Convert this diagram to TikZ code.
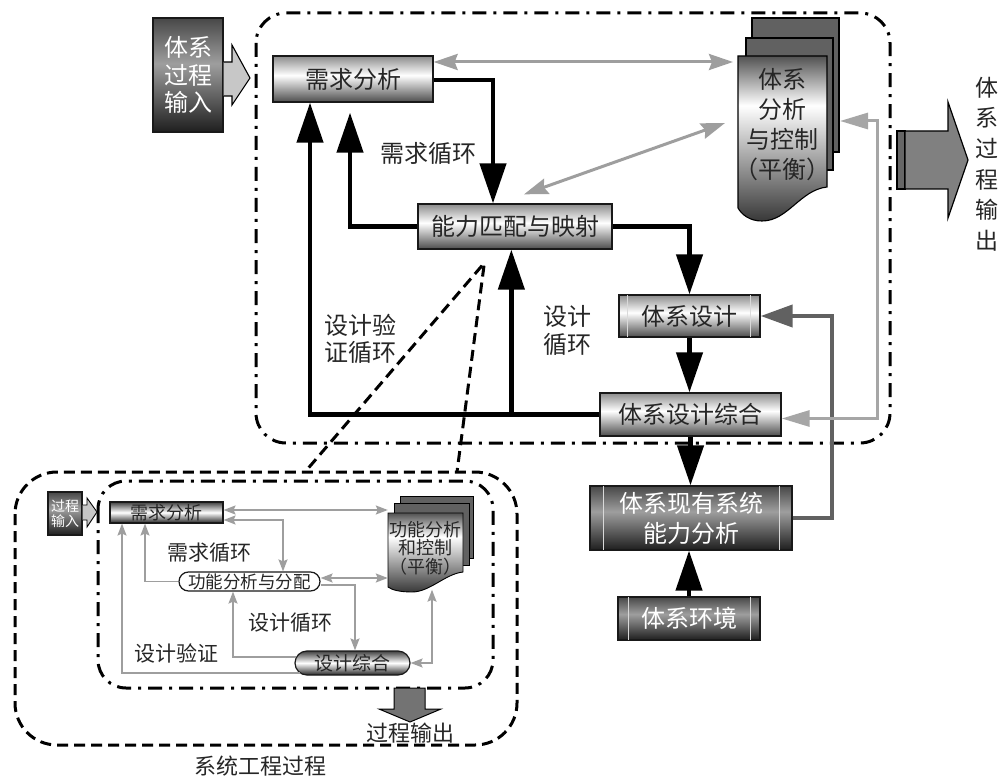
\documentclass[tikz,border=0pt]{standalone}
\usepackage{fontspec}
\setmainfont{Noto Sans CJK SC}
\usetikzlibrary{arrows.meta,shapes.misc,calc}
\newcommand\fz[2]{\fontsize{#1pt}{#2pt}\selectfont}
\pgfdeclareverticalshading{lightcyl}{100bp}{color(0bp)=(black!70); color(25bp)=(black!70); color(54bp)=(white); color(75bp)=(black!45); color(100bp)=(black!45)}
\pgfdeclareverticalshading{ilightcyl}{100bp}{color(0bp)=(black!85); color(25bp)=(black!85); color(50bp)=(white); color(75bp)=(black!75); color(100bp)=(black!75)}
\pgfdeclareverticalshading{darkcyl}{100bp}{color(0bp)=(black!88); color(25bp)=(black!88); color(55bp)=(black!38); color(75bp)=(black!72); color(100bp)=(black!72)}
\pgfdeclareverticalshading{docshade}{100bp}{color(0bp)=(black!78); color(25bp)=(black!78); color(60bp)=(white); color(75bp)=(black!68); color(100bp)=(black!68)}
\begin{document}
\begin{tikzpicture}[x=1pt,y=-1pt,
  lbox/.style={draw=black!90, line width=1.3pt, shade, shading=lightcyl, inner sep=0pt, text=black!85, font=\fz{24}{28}},
  dbox/.style={draw=black!90, line width=1.3pt, shade, shading=darkcyl, inner sep=0pt, text=white, font=\fz{24}{30}, align=center},
  ibox/.style={draw=black!90, line width=1.1pt, shade, shading=ilightcyl, inner sep=0pt, text=black!85, font=\fz{18}{18}},
  lbl/.style={text=black!85, font=\fz{24}{28}, align=center, inner sep=0pt},
  ilbl/.style={text=black!85, font=\fz{21}{22}, inner sep=0pt},
  blk/.style={line width=4.5pt, -{Triangle[length=40pt,width=26pt]}},
  gdbl/.style={draw=black!38, line width=3pt, {Stealth[length=24pt,width=16pt,inset=3pt]}-{Stealth[length=24pt,width=16pt,inset=3pt]}},
  lg/.style={draw=black!35, line width=3pt, {Triangle[length=28pt,width=16pt]}-{Triangle[length=28pt,width=16pt]}},
  dg/.style={draw=black!62, line width=4pt, -{Triangle[length=32pt,width=22pt]}},
  ig/.style={draw=black!38, line width=1.6pt, -{Stealth[length=12pt,width=9pt,inset=2pt]}},
  igd/.style={draw=black!38, line width=1.6pt, {Stealth[length=12pt,width=9pt,inset=2pt]}-{Stealth[length=12pt,width=9pt,inset=2pt]}},
  ddot/.style={line width=3pt, dash pattern=on 14pt off 7pt on 3pt off 7pt},
  dsh/.style={line width=3pt, dash pattern=on 11pt off 6pt},
  cylline/.style={draw=black!15, line width=1pt}
]
\useasboundingbox (0,0) rectangle (1001,778);

% ---------- frames ----------
\draw[ddot, rounded corners=30pt] (256,13) rectangle (890,443);
\draw[dsh, rounded corners=42pt] (15,472) rectangle (517,745);
\draw[ddot, rounded corners=28pt] (98,481) rectangle (493,688);

% ---------- main nodes ----------
\node[lbox, minimum width=160pt, minimum height=46pt] (req) at (353,79) {需求分析};
\node[lbox, minimum width=194pt, minimum height=45pt] (cap) at (515,226.5) {能力匹配与映射};
\node[lbox, minimum width=141pt, minimum height=42pt] (des) at (689.5,316) {体系设计};
\node[lbox, minimum width=181pt, minimum height=43pt] (syn) at (690.5,414.5) {体系设计综合};
\node[dbox, minimum width=202pt, minimum height=64pt] (exist) at (691,518) {体系现有系统\\能力分析};
\node[dbox, minimum width=142pt, minimum height=43pt] (env) at (689,618.5) {体系环境};
\foreach \n/\d/\e in {des/9/10, exist/14/13, env/11/10}{
  \draw[cylline] ([xshift=\d pt,yshift=-0.7pt]\n.north west) -- ([xshift=\d pt,yshift=0.7pt]\n.south west);
  \draw[cylline] ([xshift=-\e pt,yshift=-0.7pt]\n.north east) -- ([xshift=-\e pt,yshift=0.7pt]\n.south east);
}

% input block
\node[dbox, minimum width=70pt, minimum height=114pt, font=\fz{24}{27.5}] (inp) at (188,75) {体系\\过程\\输入};
\draw[line width=1.1pt, fill=black!22] (inp.east |- 0,62) -- (232,62) -- (232,45) -- (250,78) -- (232,105) -- (232,96) -- (inp.east |- 0,96);

% document stack (main)
\draw[line width=1.1pt, fill=black!62] (752,18) rectangle (839,152);
\draw[line width=1.1pt, fill=black!62] (746,38) rectangle (833,170);
\draw[line width=1.1pt, shade, shading=docshade] (738,56) -- (827,56) -- (827,187) .. controls (800,190) and (788,221) .. (762,221) .. controls (750,221) and (742,215) .. (738,208) -- cycle;
\node[lbl, font=\fz{24}{30}] (doct) at (782,125) {体系\\分析\\与控制\\（平衡）};
\coordinate (docA) at (733,62);
\coordinate (docB) at (725,123);
\coordinate (docR) at (840,121);

% output arrow
\draw[line width=1.2pt, fill=black!60] (897,131) rectangle (905,189);
\draw[line width=1.2pt, fill=black!50] (905,131) -- (948,131) -- (948,102) -- (968,160) -- (948,218) -- (948,189) -- (905,189) -- cycle;
\node[lbl, font=\fz{23}{30.6}] (outt) at (987,164) {体\\系\\过\\程\\输\\出};

% ---------- main connectors ----------
\draw[gdbl] ([yshift=17pt]req.east) -- (docA);
\draw[gdbl] ($(cap.north)+(9,-9)$) -- (docB);
\draw[blk] ([yshift=-1pt]req.east) -| ([xshift=-22pt]cap.north);
\draw[blk] (cap.west) -| ([xshift=-3pt,yshift=-10pt]req.south);
\draw[blk] (syn.west) -| ([xshift=-43pt]req.south);
\coordinate (br) at ($(syn.west)+(-88,0)$);
\draw[blk] (br) -- (br |- cap.south);
\draw[blk] (cap.east) -| (des.north);
\draw[blk] (des.south) -- (des.south |- syn.north);
\draw[blk] (syn.south) -- (syn.south |- exist.north);
\draw[blk] (env.north) -- (env.north |- exist.south);
\draw[dg] (exist.east) -| ($(des.east)+(71,0)$) -- (des.east);
\draw[lg] ([yshift=-4pt]syn.east) -| ($(docR)+(37,0)$) -- (docR);

\node[lbl] (l1) at (428,153) {需求循环};
\node[lbl, font=\fz{24}{27}] (l2) at (360,338.5) {设计验\\证循环};
\node[lbl, font=\fz{24}{28}] (l3) at (567,331) {设计\\循环};

% dashed zoom lines
\coordinate (lbL) at (305,472);
\coordinate (lbR) at (457,472);
\draw[dsh] ($(cap.south)+(-33,16)$) -- (lbL);
\draw[dsh] ($(cap.south)+(-31,16)$) -- (lbR);

% ---------- inner diagram ----------
\node[dbox, minimum width=34pt, minimum height=43pt, font=\fz{14}{15}] (iin) at (65,513.5) {过程\\输入};
\draw[line width=0.9pt, fill=black!22] (iin.east |- 0,505) -- (87,505) -- (87,498) -- (97,512) -- (87,527) -- (87,520) -- (iin.east |- 0,520);

\node[ibox, minimum width=113pt, minimum height=21pt] (ireq) at (166.5,512.5) {需求分析};
\node[rounded rectangle, draw=black!90, line width=1.2pt, fill=white, minimum width=141pt, minimum height=19pt, inner sep=0pt, text=black!85, font=\fz{17.5}{18}] (ifun) at (249.5,581.5) {功能分析与分配};
\node[rounded rectangle, draw=black!90, line width=1.2pt, shade, shading=ilightcyl, minimum width=115pt, minimum height=24pt, inner sep=0pt, text=black!85, font=\fz{19}{20}] (isyn) at (352.5,663) {设计综合};

% inner document stack
\draw[line width=0.9pt, fill=black!62] (400,496) rectangle (473,558);
\draw[line width=0.9pt, fill=black!62] (394,503) rectangle (469,565);
\draw[line width=0.9pt, shade, shading=docshade] (388,513) -- (463,513) -- (463,572) .. controls (445,574) and (430,592) .. (412,592) .. controls (400,592) and (392,590) .. (388,587) -- cycle;
\node[minimum width=75pt, minimum height=77pt, inner sep=0pt] (idoc) at (425.5,551) {};
\node[lbl, font=\fz{18}{18.5}] (idoct) at (425.5,548) {功能分析\\和控制\\（平衡）};

% inner connectors
\draw[igd] ([yshift=2.5pt]ireq.east) -- ([yshift=2.5pt]ireq.east -| idoc.west);
\draw[igd] ([yshift=-7.5pt]ireq.east) -| ([xshift=33.5pt]ifun.north);
\draw[ig] (ifun.west) -| ([xshift=-21.5pt]ireq.south);
\draw[ig] ($(isyn.west)+(6,10)$) -| ([xshift=-44.5pt]ireq.south);
\draw[ig] ($(isyn.west)+(2,-6)$) -| ([xshift=-16.5pt]ifun.south);
\draw[ig] ([yshift=-3.5pt]ifun.east) -| ([xshift=2.5pt]isyn.north);
\draw[igd] ([yshift=3.5pt]ifun.east) -- ([yshift=3.5pt]ifun.east -| idoc.west);
\draw[igd] (isyn.east) -| ([xshift=6.5pt]idoc.south);

\node[ilbl] (il1) at (209,553) {需求循环};
\node[ilbl] (il2) at (290,623) {设计循环};
\node[ilbl] (il3) at (176,653) {设计验证};

% output of inner process
\draw[line width=1pt, fill=black!55] (394,688) -- (425,688) -- (425,709) -- (441,709) -- (410,722) -- (379,709) -- (394,709) -- cycle;
\node[ilbl, font=\fz{22}{22}] (iout) at (410,733) {过程输出};
\node[ilbl, font=\fz{22}{22}] (sys) at (260,766) {系统工程过程};
\end{tikzpicture}
\end{document}
